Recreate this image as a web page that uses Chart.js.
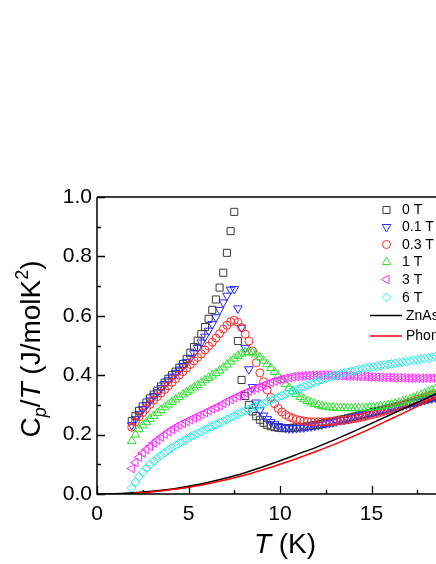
<!DOCTYPE html>
<html>
<head>
<meta charset="utf-8">
<script src="https://cdn.jsdelivr.net/npm/chart.js@4/dist/chart.umd.min.js"></script>
<style>
html,body{margin:0;padding:0;background:#fff;overflow:hidden;}
#wrap{width:471px;height:564px;}
</style>
</head>
<body>
<div id="wrap"><canvas id="c" width="471" height="564"></canvas></div>
<script>
// ---------------- data ----------------
const T = [1.9,2.1,2.3,2.5,2.7,2.9,3.1,3.3,3.5,3.7,
  3.9,4.1,4.3,4.5,4.7,4.9,5.1,5.3,5.5,5.7,
  5.9,6.1,6.3,6.5,6.7,6.9,7.1,7.3,7.5,7.7,
  7.9,8.1,8.3,8.5,8.7,8.9,9.1,9.3,9.5,9.7,
  9.9,10.1,10.3,10.5,10.7,10.9,11.1,11.3,11.5,11.7,
  11.9,12.1,12.3,12.5,12.7,12.9,13.1,13.3,13.5,13.7,
  13.9,14.1,14.3,14.5,14.7,14.9,15.1,15.3,15.5,15.7,
  15.9,16.1,16.3,16.5,16.7,16.9,17.1,17.3,17.5,17.7,
  17.9,18.1,18.3,18.5];

const cp0T = [0.245,0.262,0.280,0.295,0.308,0.322,0.335,0.348,0.362,0.375,
  0.388,0.400,0.412,0.425,0.438,0.455,0.476,0.495,0.516,0.538,
  0.562,0.590,0.620,0.655,0.695,0.745,0.812,0.885,0.950,0.515,
  0.384,0.330,0.300,0.278,0.262,0.250,0.240,0.233,0.228,0.225,
  0.223,0.222,0.222,0.222,0.223,0.224,0.225,0.226,0.228,0.230,
  0.232,0.234,0.236,0.239,0.241,0.244,0.247,0.250,0.252,0.255,
  0.258,0.261,0.264,0.267,0.270,0.273,0.276,0.279,0.282,0.285,
  0.288,0.291,0.294,0.297,0.300,0.303,0.306,0.309,0.312,0.315,
  0.318,0.321,0.324,0.327];

const cp01T = [0.232,0.252,0.270,0.286,0.300,0.315,0.330,0.343,0.357,0.370,
  0.383,0.395,0.407,0.419,0.431,0.444,0.458,0.474,0.492,0.510,
  0.530,0.550,0.572,0.595,0.620,0.645,0.668,0.688,0.690,0.625,
  0.560,0.492,0.420,0.360,0.308,0.282,0.264,0.252,0.242,0.235,
  0.229,0.225,0.222,0.221,0.221,0.222,0.223,0.224,0.226,0.228,
  0.230,0.232,0.234,0.237,0.239,0.242,0.245,0.248,0.250,0.253,
  0.256,0.259,0.262,0.265,0.268,0.271,0.274,0.277,0.280,0.283,
  0.286,0.289,0.292,0.295,0.298,0.301,0.304,0.307,0.310,0.313,
  0.316,0.319,0.322,0.325];

const cp03T = [0.225,0.243,0.260,0.274,0.288,0.302,0.316,0.328,0.340,0.352,
  0.364,0.376,0.388,0.400,0.412,0.424,0.436,0.448,0.460,0.472,
  0.485,0.498,0.511,0.525,0.540,0.555,0.568,0.580,0.585,0.578,
  0.560,0.538,0.515,0.482,0.442,0.408,0.378,0.350,0.325,0.304,
  0.288,0.276,0.267,0.260,0.255,0.251,0.248,0.246,0.244,0.243,
  0.243,0.243,0.243,0.243,0.244,0.245,0.246,0.247,0.248,0.250,
  0.252,0.254,0.256,0.259,0.262,0.265,0.268,0.271,0.275,0.279,
  0.283,0.287,0.291,0.295,0.300,0.305,0.310,0.314,0.318,0.322,
  0.326,0.330,0.334,0.338];

const cp1T = [0.178,0.200,0.218,0.231,0.242,0.253,0.263,0.273,0.283,0.292,
  0.301,0.310,0.318,0.327,0.335,0.343,0.351,0.359,0.367,0.375,
  0.383,0.391,0.399,0.407,0.416,0.426,0.436,0.446,0.456,0.465,
  0.472,0.477,0.478,0.476,0.470,0.460,0.449,0.437,0.424,0.411,
  0.398,0.384,0.370,0.357,0.346,0.336,0.327,0.319,0.313,0.308,
  0.303,0.299,0.296,0.294,0.292,0.291,0.290,0.289,0.289,0.289,
  0.289,0.289,0.289,0.289,0.290,0.291,0.292,0.293,0.295,0.297,
  0.299,0.301,0.304,0.307,0.311,0.315,0.319,0.324,0.329,0.334,
  0.339,0.344,0.349,0.354];

const cp3T = [0.086,0.106,0.124,0.138,0.150,0.161,0.172,0.182,0.192,0.201,
  0.210,0.218,0.225,0.232,0.238,0.244,0.250,0.256,0.262,0.268,
  0.274,0.280,0.286,0.292,0.298,0.305,0.312,0.318,0.324,0.330,
  0.336,0.341,0.346,0.351,0.356,0.361,0.366,0.371,0.376,0.380,
  0.384,0.387,0.390,0.392,0.394,0.396,0.397,0.398,0.399,0.400,
  0.400,0.400,0.400,0.400,0.400,0.399,0.399,0.398,0.398,0.397,
  0.397,0.396,0.396,0.395,0.395,0.394,0.394,0.393,0.393,0.392,
  0.392,0.392,0.391,0.391,0.391,0.390,0.390,0.390,0.390,0.390,
  0.390,0.390,0.390,0.390];

const cp6T = [0.020,0.040,0.058,0.073,0.087,0.099,0.110,0.120,0.130,0.139,
  0.148,0.156,0.164,0.171,0.178,0.185,0.192,0.198,0.204,0.210,
  0.216,0.222,0.228,0.234,0.240,0.246,0.251,0.257,0.263,0.269,
  0.275,0.280,0.285,0.290,0.295,0.300,0.305,0.311,0.316,0.321,
  0.326,0.331,0.336,0.341,0.346,0.351,0.356,0.361,0.366,0.371,
  0.376,0.380,0.385,0.389,0.393,0.397,0.400,0.404,0.407,0.410,
  0.413,0.416,0.419,0.421,0.424,0.426,0.428,0.430,0.432,0.434,
  0.436,0.438,0.440,0.442,0.444,0.446,0.448,0.450,0.452,0.454,
  0.456,0.458,0.460,0.462];

const lineT   = [0,1,2,3,4,5,6,7,8,9,10,11,12,13,14,15,16,17,18,19,20];
const znAs    = [0,0.001,0.004,0.009,0.016,0.026,0.038,0.053,0.070,0.090,0.112,0.135,0.158,0.183,0.210,0.238,0.266,0.294,0.322,0.350,0.378];
const phononT = [2,3,4,5,6,7,8,9,10,11,12,13,14,15,16,17,18,19,20];
const phonon  = [0.003,0.007,0.014,0.023,0.034,0.047,0.062,0.080,0.100,0.121,0.144,0.168,0.194,0.222,0.251,0.280,0.310,0.340,0.370];

const seriesNames = ['0 T','0.1 T','0.3 T','1 T','3 T','6 T'];
const lineNames = ['ZnAs','Phonon'];
const xTickValues = [0,5,10,15,20];
const yTickValues = [0.0,0.2,0.4,0.6,0.8,1.0];

// ---------------- styles ----------------
const FONT = "'Liberation Sans', Arial, sans-serif";
const seriesStyle = [
  {color:'#3a3a3a', shape:'rect', rot:0, r:5},
  {color:'#2a2aff', shape:'triangle', rot:180, r:5},
  {color:'#ff2a2a', shape:'circle', rot:0, r:4},
  {color:'#2de02d', shape:'triangle', rot:0, r:5},
  {color:'#ff2aff', shape:'triangle', rot:270, r:5},
  {color:'#22eaea', shape:'rectRot', rot:0, r:4.5}
];
const lineColors = ['#000000','#ff0000'];

const allSeries = [cp0T, cp01T, cp03T, cp1T, cp3T, cp6T];
const datasets = allSeries.map((vals, i) => ({
  label: seriesNames[i],
  data: T.map((t, k) => ({x: t, y: vals[k]})),
  showLine: false,
  pointStyle: seriesStyle[i].shape,
  pointRotation: seriesStyle[i].rot,
  pointRadius: seriesStyle[i].r,
  pointHoverRadius: seriesStyle[i].r,
  pointBorderColor: seriesStyle[i].color,
  pointBackgroundColor: 'rgba(0,0,0,0)',
  pointBorderWidth: 1,
  order: 10 - i
}));
datasets.push({
  label: lineNames[0],
  data: lineT.map((t, k) => ({x: t, y: znAs[k]})),
  showLine: true, pointRadius: 0, borderColor: lineColors[0], borderWidth: 1.5,
  cubicInterpolationMode: 'monotone', order: 1
});
datasets.push({
  label: lineNames[1],
  data: phononT.map((t, k) => ({x: t, y: phonon[k]})),
  showLine: true, pointRadius: 0, borderColor: lineColors[1], borderWidth: 1.5,
  cubicInterpolationMode: 'monotone', order: 0
});

// ---------------- custom drawing: frame, inner ticks, titles, legend ----------------
function drawMarker(ctx, shape, rot, r, x, y) {
  ctx.beginPath();
  if (shape === 'circle') {
    ctx.arc(x, y, r, 0, Math.PI * 2);
  } else if (shape === 'rect') {
    const s = Math.SQRT1_2 * r;
    ctx.rect(x - s, y - s, 2 * s, 2 * s);
  } else if (shape === 'rectRot') {
    ctx.moveTo(x, y - r); ctx.lineTo(x + r, y); ctx.lineTo(x, y + r); ctx.lineTo(x - r, y); ctx.closePath();
  } else if (shape === 'triangle') {
    let a = rot * Math.PI / 180;
    ctx.moveTo(x + Math.sin(a) * r, y - Math.cos(a) * r);
    a += 2 * Math.PI / 3;
    ctx.lineTo(x + Math.sin(a) * r, y - Math.cos(a) * r);
    a += 2 * Math.PI / 3;
    ctx.lineTo(x + Math.sin(a) * r, y - Math.cos(a) * r);
    ctx.closePath();
  }
  ctx.stroke();
}

function drawRich(ctx, parts, startX) {
  // parts: {t, size, italic, dy}
  let x = startX;
  for (const p of parts) {
    ctx.font = (p.italic ? 'italic ' : '') + p.size + 'px ' + FONT;
    ctx.fillText(p.t, x, p.dy || 0);
    x += ctx.measureText(p.t).width;
  }
}
function richWidth(ctx, parts) {
  let w = 0;
  for (const p of parts) {
    ctx.font = (p.italic ? 'italic ' : '') + p.size + 'px ' + FONT;
    w += ctx.measureText(p.t).width;
  }
  return w;
}

const decor = {
  id: 'decor',
  afterDatasetsDraw(chart) {
    const {ctx, chartArea: a, scales: {x, y}} = chart;
    ctx.save();
    ctx.strokeStyle = '#000';
    ctx.lineWidth = 1.5;
    ctx.beginPath();
    ctx.moveTo(a.left, a.top); ctx.lineTo(a.right, a.top);
    ctx.moveTo(a.left, a.top); ctx.lineTo(a.left, a.bottom); ctx.lineTo(a.right, a.bottom);
    ctx.stroke();
    ctx.lineWidth = 1.3;
    ctx.beginPath();
    for (let i = 0; i <= 8; i++) {
      const v = i * 2.5;
      const px = Math.round(x.getPixelForValue(v)) + 0.5;
      const len = (i % 2 === 0) ? 8 : 4;
      ctx.moveTo(px, a.bottom); ctx.lineTo(px, a.bottom - len);
    }
    for (let i = 0; i <= 10; i++) {
      const v = i * 0.1;
      const py = Math.round(y.getPixelForValue(v)) + 0.5;
      const len = (i % 2 === 0) ? 8 : 4;
      ctx.moveTo(a.left, py); ctx.lineTo(a.left + len, py);
    }
    ctx.stroke();
    ctx.restore();
  },
  afterDraw(chart) {
    const {ctx, chartArea: a} = chart;
    ctx.save();
    ctx.fillStyle = '#000';
    ctx.textBaseline = 'alphabetic';
    ctx.textAlign = 'left';
    // x title
    const xParts = [{t:'T', size:28, italic:true}, {t:' (K)', size:28}];
    const xw = richWidth(ctx, xParts);
    ctx.save();
    ctx.translate(285 - xw / 2, 553);
    drawRich(ctx, xParts, 0);
    ctx.restore();
    // y title (rotated)
    const yParts = [
      {t:'C', size:28}, {t:'p', size:18, italic:true, dy:6},
      {t:'/', size:28}, {t:'T', size:28, italic:true},
      {t:' (J/molK', size:28}, {t:'2', size:18, dy:-12}, {t:')', size:28}
    ];
    const yw = richWidth(ctx, yParts);
    ctx.save();
    ctx.translate(40, 349);
    ctx.rotate(-Math.PI / 2);
    drawRich(ctx, yParts, -yw / 2);
    ctx.restore();
    // legend
    const rowsY = [210, 227, 244.5, 262, 279.5, 297.5];
    ctx.font = '14px ' + FONT;
    ctx.textBaseline = 'middle';
    for (let i = 0; i < seriesNames.length; i++) {
      const st = seriesStyle[i];
      ctx.strokeStyle = st.color;
      ctx.lineWidth = 1;
      drawMarker(ctx, st.shape, st.rot, st.r, 386.5, rowsY[i]);
      ctx.fillStyle = '#000';
      ctx.fillText(seriesNames[i], 402, rowsY[i] + 0.5);
    }
    const lineRows = [315.5, 336];
    for (let i = 0; i < lineNames.length; i++) {
      ctx.strokeStyle = lineColors[i];
      ctx.lineWidth = 1.5;
      ctx.beginPath();
      ctx.moveTo(370, lineRows[i]); ctx.lineTo(402, lineRows[i]);
      ctx.stroke();
      ctx.fillStyle = '#000';
      ctx.fillText(lineNames[i], 406, lineRows[i] + 0.5);
    }
    ctx.restore();
  }
};

new Chart(document.getElementById('c'), {
  type: 'scatter',
  data: {datasets},
  options: {
    responsive: false,
    animation: false,
    events: [],
    layout: {padding: {top: 197, left: 0, right: 0, bottom: 0}},
    plugins: {legend: {display: false}, tooltip: {enabled: false}, title: {display: false}},
    scales: {
      x: {
        type: 'linear', min: 0, max: 20,
        grid: {display: false, drawTicks: false}, border: {display: false},
        afterBuildTicks: s => { s.ticks = xTickValues.map(v => ({value: v})); },
        ticks: {
          font: {size: 21, family: FONT}, color: '#000', padding: 8,
          maxRotation: 0, autoSkip: false,
          callback: v => (v === 20 ? '' : String(v))
        },
        afterFit: s => { s.height = 70; }
      },
      y: {
        type: 'linear', min: 0, max: 1,
        grid: {display: false, drawTicks: false}, border: {display: false},
        afterBuildTicks: s => { s.ticks = yTickValues.map(v => ({value: v})); },
        ticks: {
          font: {size: 21, family: FONT}, color: '#000', padding: 5,
          callback: v => Number(v).toFixed(1)
        },
        afterFit: s => { s.width = 97; }
      }
    }
  },
  plugins: [decor]
});
</script>
</body>
</html>
